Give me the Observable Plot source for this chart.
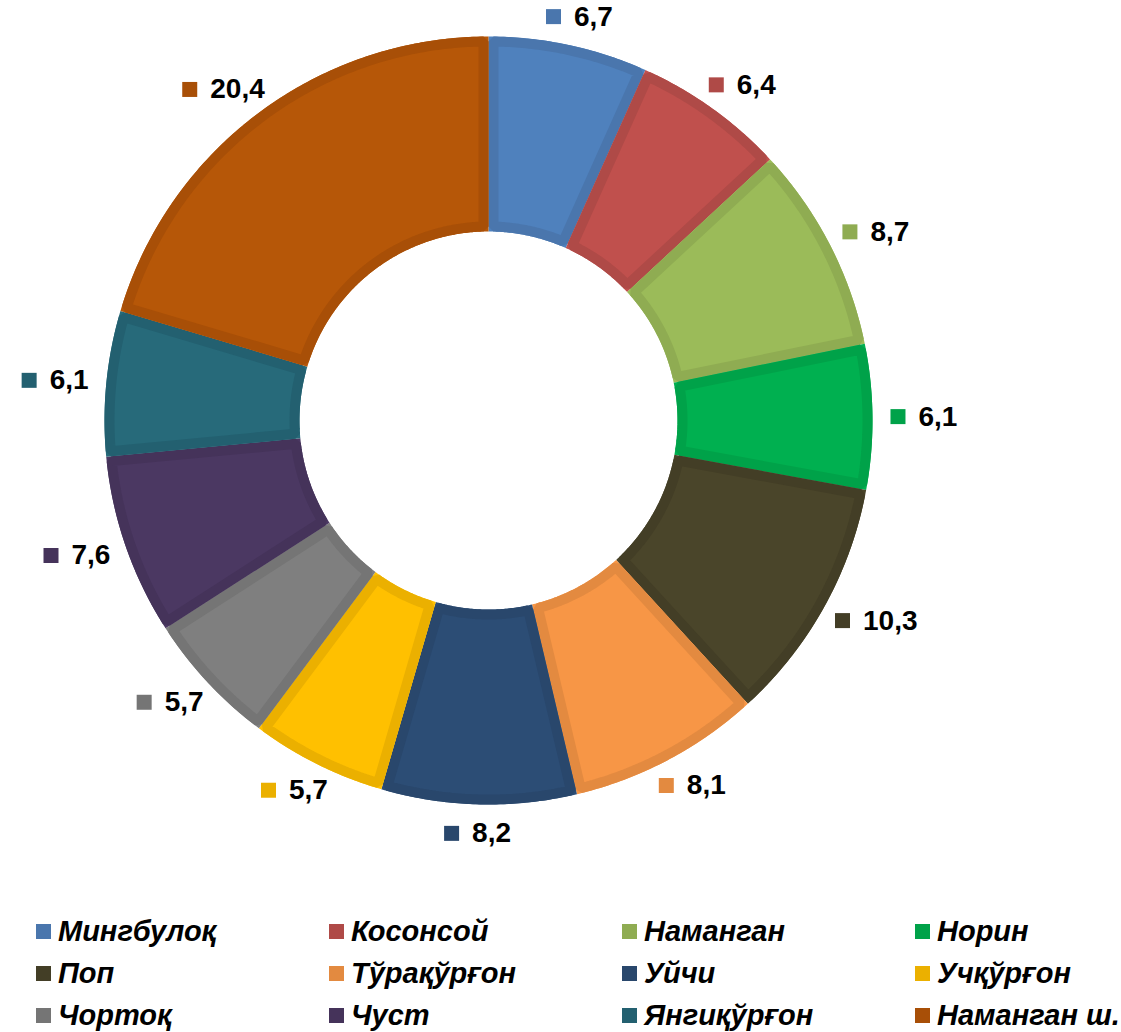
<!DOCTYPE html>
<html>
<head>
<meta charset="utf-8">
<script src="https://cdn.jsdelivr.net/npm/d3@7"></script>
<script src="https://cdn.jsdelivr.net/npm/@observablehq/plot@0.6"></script>
<style>
  html, body { margin: 0; padding: 0; background: #fff; }
  body { width: 1121px; height: 1032px; overflow: hidden; font-family: "Liberation Sans", Arial, sans-serif; }
  #legend { display: grid; grid-template-columns: repeat(4, 293px); grid-auto-rows: 42px; padding: 20px 0 0 36px; }
  .item { display: flex; align-items: center; font-weight: bold; font-style: italic; font-size: 29px; line-height: 34px; color: #000; white-space: nowrap; }
  .sw { width: 15px; height: 15px; margin-right: 7px; flex: none; }
</style>
</head>
<body>
<div id="chart"></div>
<div id="legend"></div>
<script>
const names = ["Мингбулоқ","Косонсой","Наманган","Норин","Поп","Тўрақўрғон","Уйчи","Учқўрғон","Чортоқ","Чуст","Янгиқўрғон","Наманган ш."];
const values = [6.7, 6.4, 8.7, 6.1, 10.3, 8.1, 8.2, 5.7, 5.7, 7.6, 6.1, 20.4];
const fillColors = ["#4F81BD","#C0504D","#9BBB59","#00B050","#4A452A","#F79646","#2C4D75","#FFC000","#7F7F7F","#4B3862","#276A7A","#B65708"];
const borderColors = ["#4A76AD","#AF4A47","#8FAC52","#00A249","#433E26","#E38A40","#29476C","#EBB000","#757575","#45335A","#236070","#A84F07"];

const W = 1121, H = 890;
const cx = 488, cy = 420;
const R1 = 384, R0 = 189;
const border = 10;
const labelR = R1 + 18;
const labelFont = "bold 28px 'Liberation Sans', Arial, sans-serif";

const total = d3.sum(values);
const pt = (a, r) => ({x: r * Math.sin(a), y: -r * Math.cos(a)});

function arcPts(a0, a1, r, d) {
  const da = Math.asin(Math.min(0.99, d / r));
  const s = a0 + da, e = a1 - da;
  const n = Math.max(2, Math.ceil((e - s) / (Math.PI / 360)));
  return d3.range(n + 1).map(k => pt(s + (e - s) * k / n, r));
}
function ring(a0, a1, d) {
  const outer = arcPts(a0, a1, R1 - d, d);
  const inner = arcPts(a0, a1, R0 + d, d).reverse();
  const mid = Math.floor(outer.length / 2);
  return outer.slice(mid).concat(inner, outer.slice(0, mid + 1));
}

const ctx = document.createElement("canvas").getContext("2d");
ctx.font = labelFont;

let acc = 0;
const slices = values.map((v, i) => {
  const a0 = acc / total * 2 * Math.PI;
  acc += v;
  const a1 = acc / total * 2 * Math.PI;
  const am = (a0 + a1) / 2;
  const label = String(v).replace(".", ",");
  const tw = ctx.measureText(label).width;
  const bw = 28 + tw, bh = 22;
  const p = pt(am, labelR);
  const bx = p.x + Math.sin(am) * bw / 2;
  const by = p.y - Math.cos(am) * bh / 2;
  const left = bx - bw / 2;
  return {i, name: names[i], value: v, label, a0, a1,
    fill: fillColors[i], stroke: borderColors[i],
    mx: left + 7.5, my: by, tx: left + 28, ty: by};
});

const marks = [];
for (const s of slices) {
  marks.push(Plot.line(ring(s.a0, s.a1, 0), {x: "x", y: "y", fill: s.fill, stroke: "none"}));
  marks.push(Plot.line(ring(s.a0, s.a1, border / 2), {x: "x", y: "y", fill: "none", stroke: s.stroke, strokeWidth: border, strokeLinejoin: "miter", strokeLinecap: "round"}));
}
marks.push(Plot.dot(slices, {x: "mx", y: "my", symbol: "square", r: 15 / Math.sqrt(Math.PI), fill: "stroke", stroke: "none"}));
marks.push(Plot.text(slices, {x: "tx", y: "ty", text: "label", textAnchor: "start", fontSize: 28, fontWeight: "bold", fill: "#000", fontFamily: "'Liberation Sans', Arial, sans-serif"}));

const chart = Plot.plot({
  width: W, height: H,
  margin: 0,
  x: {type: "linear", domain: [-cx, W - cx], range: [0, W], axis: null},
  y: {type: "linear", domain: [-cy, H - cy], range: [0, H], axis: null},
  color: {type: "identity"},
  style: {background: "#fff", overflow: "visible"},
  marks
});
document.getElementById("chart").appendChild(chart);

const legend = document.getElementById("legend");
names.forEach((n, i) => {
  const it = document.createElement("div");
  it.className = "item";
  const sw = document.createElement("span");
  sw.className = "sw";
  sw.style.background = borderColors[i];
  it.appendChild(sw);
  it.appendChild(document.createTextNode(n));
  legend.appendChild(it);
});
</script>
</body>
</html>
